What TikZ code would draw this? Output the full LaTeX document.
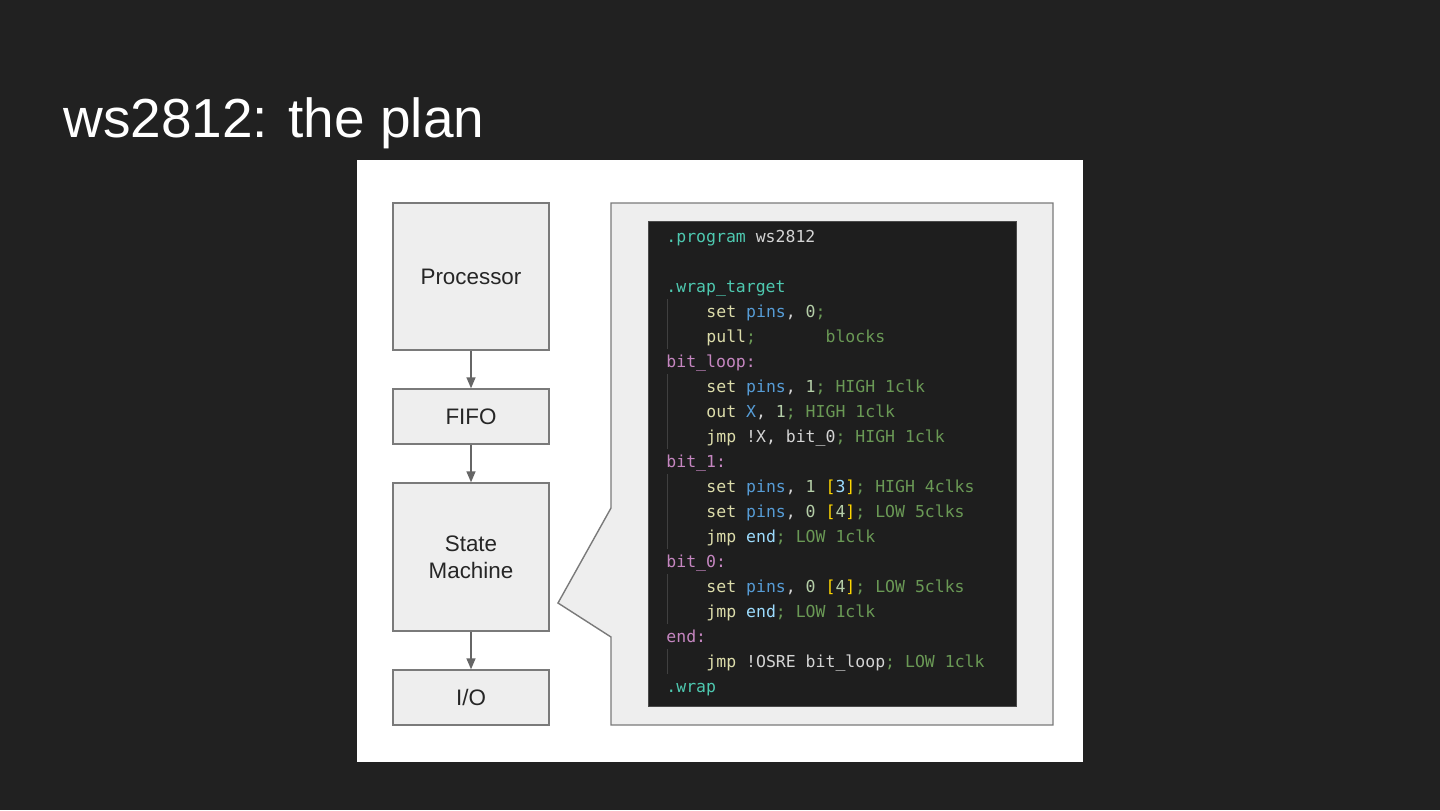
\documentclass[tikz,border=0pt]{standalone}
\usepackage{fontspec}
\setmainfont{Liberation Sans}
\newfontfamily\codefont{DejaVu Sans Mono}
\usetikzlibrary{arrows.meta}

\definecolor{slidebg}{HTML}{212121}
\definecolor{boxfill}{HTML}{EEEEEE}
\definecolor{boxline}{HTML}{7A7A7A}
\definecolor{arrowgray}{HTML}{666666}
\definecolor{codebg}{HTML}{1E1E1E}
\definecolor{codeedge}{HTML}{4A4A4A}
\definecolor{codetext}{HTML}{D4D4D4}
\definecolor{codedir}{HTML}{4EC9B0}
\definecolor{codekw}{HTML}{DCDCAA}
\definecolor{codereg}{HTML}{569CD6}
\definecolor{coderef}{HTML}{9CDCFE}
\definecolor{codenum}{HTML}{B5CEA8}
\definecolor{codecom}{HTML}{6A9955}
\definecolor{codelab}{HTML}{C586C0}
\definecolor{codebr}{HTML}{FFD700}
\definecolor{guidegray}{HTML}{404040}

\newcommand{\cdir}[1]{\textcolor{codedir}{#1}}
\newcommand{\ckw}[1]{\textcolor{codekw}{#1}}
\newcommand{\creg}[1]{\textcolor{codereg}{#1}}
\newcommand{\cref}[1]{\textcolor{coderef}{#1}}
\newcommand{\cnum}[1]{\textcolor{codenum}{#1}}
\newcommand{\ccom}[1]{\textcolor{codecom}{#1}}
\newcommand{\clab}[1]{\textcolor{codelab}{#1}}
\newcommand{\cbr}[1]{\textcolor{codebr}{#1}}

\begin{document}
\begin{tikzpicture}[x=0.5pt,y=-0.5pt,
    block/.style={draw=boxline, fill=boxfill, line width=0.7pt, minimum width=78pt,
        inner sep=0pt, align=center, text=black!85, font=\fontsize{11.2}{13.5}\selectfont},
    flow/.style={draw=arrowgray, line width=0.7pt, -{Triangle[width=4.5pt,length=5.5pt]}},
    codeline/.style={anchor=base west, inner sep=0pt, text=codetext,
        font=\codefont\fontsize{8.25}{10}\selectfont},
    guide/.style={draw=guidegray, line width=0.5pt}]

    % Slide background and title
    \fill[slidebg] (0,0) rectangle (1440,810);
    \node[anchor=base west, inner sep=0pt, text=white, font=\fontsize{27.5}{32}\selectfont]
        (title) at (63,137) {ws2812: the plan};

    % White panel
    \fill[white] (357,160) rectangle (1083,762);

    % Blocks
    \node[block, minimum height=73.5pt] (proc) at (471,276.5) {Processor};
    \node[block, minimum height=27.5pt] (fifo) at (471,416.5) {FIFO};
    \node[block, minimum height=74pt] (sm) at (471,557) {State\\Machine};
    \node[block, minimum height=27.5pt] (io) at (471,697.5) {I/O};

    % Arrows
    \draw[flow] (proc) -- (fifo);
    \draw[flow] (fifo) -- (sm);
    \draw[flow] (sm) -- (io);

    % Callout
    \filldraw[fill=boxfill, draw=boxline, line width=0.7pt]
        (611,203) -- (1053,203) -- (1053,725) -- (611,725) -- (611,637)
        -- (558,603) -- (611,508) -- cycle;

    % Code panel
    \filldraw[fill=codebg, draw=codeedge, line width=0.5pt] (648,221) rectangle (1016,706);

    % Indent guides
    \draw[guide] (667,299) -- (667,349);
    \draw[guide] (667,374) -- (667,449);
    \draw[guide] (667,474) -- (667,549);
    \draw[guide] (667,574) -- (667,624);
    \draw[guide] (667,649) -- (667,674);

    % Code lines
    \node[codeline] (l0) at (666,242) {\cdir{.program} ws2812};
    \node[codeline] (l2) at (666,292) {\cdir{.wrap\_target}};
    \node[codeline] (l3) at (706,317) {\ckw{set} \creg{pins}, \cnum{0}\ccom{;}};
    \node[codeline] (l4) at (706,342) {\ckw{pull}\ccom{;}\ \ \ \ \ \ \ \ccom{blocks}};
    \node[codeline] (l5) at (666,367) {\clab{bit\_loop:}};
    \node[codeline] (l6) at (706,392) {\ckw{set} \creg{pins}, \cnum{1}\ccom{; HIGH 1clk}};
    \node[codeline] (l7) at (706,417) {\ckw{out} \creg{X}, \cnum{1}\ccom{; HIGH 1clk}};
    \node[codeline] (l8) at (706,442) {\ckw{jmp} !X, bit\_0\ccom{; HIGH 1clk}};
    \node[codeline] (l9) at (666,467) {\clab{bit\_1:}};
    \node[codeline] (l10) at (706,492) {\ckw{set} \creg{pins}, \cnum{1} \cbr{[}\cref{3}\cbr{]}\ccom{; HIGH 4clks}};
    \node[codeline] (l11) at (706,517) {\ckw{set} \creg{pins}, \cnum{0} \cbr{[}\cnum{4}\cbr{]}\ccom{; LOW 5clks}};
    \node[codeline] (l12) at (706,542) {\ckw{jmp} \cref{end}\ccom{; LOW 1clk}};
    \node[codeline] (l13) at (666,567) {\clab{bit\_0:}};
    \node[codeline] (l14) at (706,592) {\ckw{set} \creg{pins}, \cnum{0} \cbr{[}\cnum{4}\cbr{]}\ccom{; LOW 5clks}};
    \node[codeline] (l15) at (706,617) {\ckw{jmp} \cref{end}\ccom{; LOW 1clk}};
    \node[codeline] (l16) at (666,642) {\clab{end:}};
    \node[codeline] (l17) at (706,667) {\ckw{jmp} !OSRE bit\_loop\ccom{; LOW 1clk}};
    \node[codeline] (l18) at (666,692) {\cdir{.wrap}};

\end{tikzpicture}
\end{document}
